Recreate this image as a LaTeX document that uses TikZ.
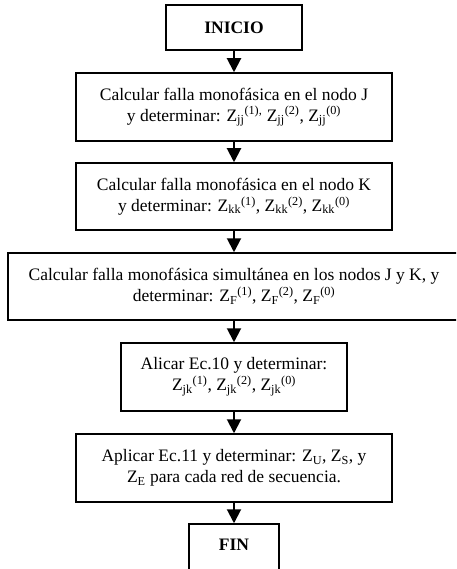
\documentclass[tikz,border=0pt]{standalone}
\usepackage{fontspec}
\setmainfont{Liberation Serif}
\usetikzlibrary{arrows.meta}
\tikzset{
  box/.style={draw, line width=1.5pt, align=center, inner sep=0pt, font=\fontsize{17.5}{21}\selectfont},
  flow/.style={line width=2pt, -{Triangle[width=14pt,length=14pt]}}
}
\newcommand{\Zs}[2]{Z\textsubscript{#1}\textsuperscript{#2}}
\begin{document}
\begin{tikzpicture}[x=1pt,y=-1pt]
\useasboundingbox (0,0) rectangle (456,569);
\clip (0,0) rectangle (456,569);
\node[box, minimum width=136pt, minimum height=45pt, font=\fontsize{17.5}{21}\selectfont\bfseries] (ini) at (234,27.5) {INICIO};
\node[box, minimum width=316pt, minimum height=68pt] (b1) at (234,107) {Calcular falla monofásica en el nodo J\\y determinar: \Zs{jj}{(1),} \Zs{jj}{(2)}, \Zs{jj}{(0)}};
\node[box, minimum width=316pt, minimum height=67pt] (b2) at (234,196.5) {Calcular falla monofásica en el nodo K\\y determinar: \Zs{kk}{(1)}, \Zs{kk}{(2)}, \Zs{kk}{(0)}};
\node[box, minimum width=452pt, minimum height=67pt] (b3) at (234,286.5) {Calcular falla monofásica simultánea en los nodos J y K, y\\determinar: \Zs{F}{(1)}, \Zs{F}{(2)}, \Zs{F}{(0)}};
\node[box, minimum width=226pt, minimum height=68pt] (b4) at (234,377) {Alicar Ec.10 y determinar:\\\Zs{jk}{(1)}, \Zs{jk}{(2)}, \Zs{jk}{(0)}};
\node[box, minimum width=316pt, minimum height=68pt] (b5) at (234,468) {Aplicar Ec.11 y determinar: Z\textsubscript{U}, Z\textsubscript{S}, y\\Z\textsubscript{E} para cada red de secuencia.};
\node[box, minimum width=90pt, text height=26pt, text depth=26pt, anchor=base, font=\fontsize{17.5}{21}\selectfont\bfseries] (fin) at (234,550) {FIN};
\draw[flow] (ini) -- (b1);
\draw[flow] (b1) -- (b2);
\draw[flow] (b2) -- (b3);
\draw[flow] (b3) -- (b4);
\draw[flow] (b4) -- (b5);
\draw[flow] (b5) -- (fin);
\end{tikzpicture}
\end{document}
